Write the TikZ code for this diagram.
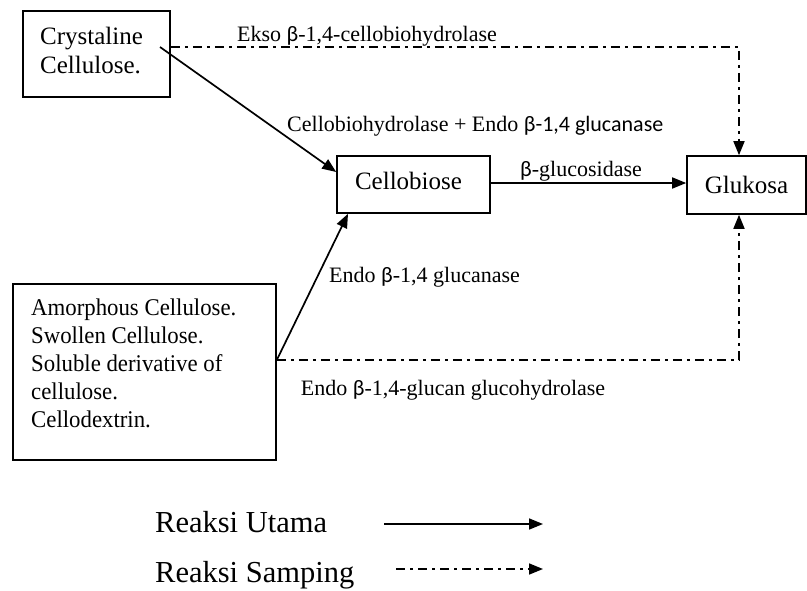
\documentclass[tikz,border=0pt]{standalone}
\usepackage{fontspec}
\setmainfont{Liberation Serif}
\newfontfamily\calfont{Carlito}
\newfontfamily\tightserif[FakeStretch=0.95]{Liberation Serif}
\usetikzlibrary{arrows.meta,calc}
\tikzset{
  boxnode/.style={draw, line width=1.6pt, rectangle, inner sep=0pt},
  boxtext/.style={font=\fontsize{25}{29}\selectfont, inner sep=0pt},
  lbl/.style={font=\fontsize{22}{26}\selectfont, inner sep=0pt, anchor=base west},
  legtext/.style={font=\fontsize{30.5}{36}\selectfont, inner sep=0pt, anchor=base west},
  mainarrow/.style={line width=1.7pt, -{Triangle[length=14pt,width=11pt]}},
  sidearrow/.style={line width=1.7pt, dash pattern=on 9pt off 5pt on 3pt off 5pt, -{Triangle[length=14pt,width=11pt]}}
}
\newcommand{\bet}{{\calfont β}}
\begin{document}
\begin{tikzpicture}[x=1pt,y=-1pt]
\useasboundingbox (0,0) rectangle (807,590);
% boxes
\node[boxnode, minimum width=147pt, minimum height=86pt] (crys) at (96.5,54) {};
\node[boxtext, align=left, anchor=west] (crystext) at (40,50) {Crystaline\\Cellulose.};
\node[boxnode, minimum width=153pt, minimum height=57pt] (cello) at (413.5,184.5) {};
\node[boxtext] (cellotext) at (408.5,181) {Cellobiose};
\node[boxnode, boxtext, minimum width=119pt, minimum height=58pt] (gluk) at (746.5,185) {Glukosa};
\node[boxnode, minimum width=263pt, minimum height=176pt] (amorph) at (144.5,372) {};
\node[inner sep=0pt, align=left, anchor=west, font=\tightserif\fontsize{24}{28}\selectfont] (amorphtext) at (31,363)
  {Amorphous Cellulose.\\Swollen Cellulose.\\Soluble derivative of\\cellulose.\\Cellodextrin.};
% coordinates
\coordinate (crysout) at (160,47);
\coordinate (crysside) at (crys.east |- crysout);
\coordinate (celloin) at (cello.west |- 0,172);
\coordinate (amout) at (amorph.east |- 0,360);
\coordinate (cellobot) at (348,0 |- cello.south);
\coordinate (gtop) at (739,0 |- gluk.north);
\coordinate (gbot) at (739,0 |- gluk.south);
\coordinate (topcorner) at (739,47);
\coordinate (botcorner) at (739,360);
% connectors
\draw[mainarrow] (crysout) -- (celloin);
\draw[sidearrow] (crysside) -- (topcorner) -- (gtop);
\draw[mainarrow] (cello.east |- 0,183) -- (gluk.west |- 0,183);
\draw[mainarrow] (amout) -- (cellobot);
\draw[sidearrow] (amout) -- (botcorner) -- (gbot);
% labels
\node[lbl] (l1) at (237,41.7) {Ekso \bet-1,4-cellobiohydrolase};
\node[lbl] (l2) at (287,131.7) {Cellobiohydrolase + Endo {\calfont β-1,4 glucanase}};
\node[lbl] (l3) at (520,176.7) {\bet-glucosidase};
\node[lbl] (l4) at (329,282) {Endo \bet-1,4 glucanase};
\node[lbl] (l5) at (300.7,395) {Endo \bet-1,4-glucan glucohydrolase};
% legend
\node[legtext] (leg1) at (155,532) {Reaksi Utama};
\node[legtext] (leg2) at (155,582.5) {Reaksi Samping};
\coordinate (leg1a) at (384,524);
\coordinate (leg1b) at (543,524);
\coordinate (leg2a) at (396,569);
\coordinate (leg2b) at (543,569);
\draw[mainarrow] (leg1a) -- (leg1b);
\draw[sidearrow] (leg2a) -- (leg2b);
\end{tikzpicture}
\end{document}
